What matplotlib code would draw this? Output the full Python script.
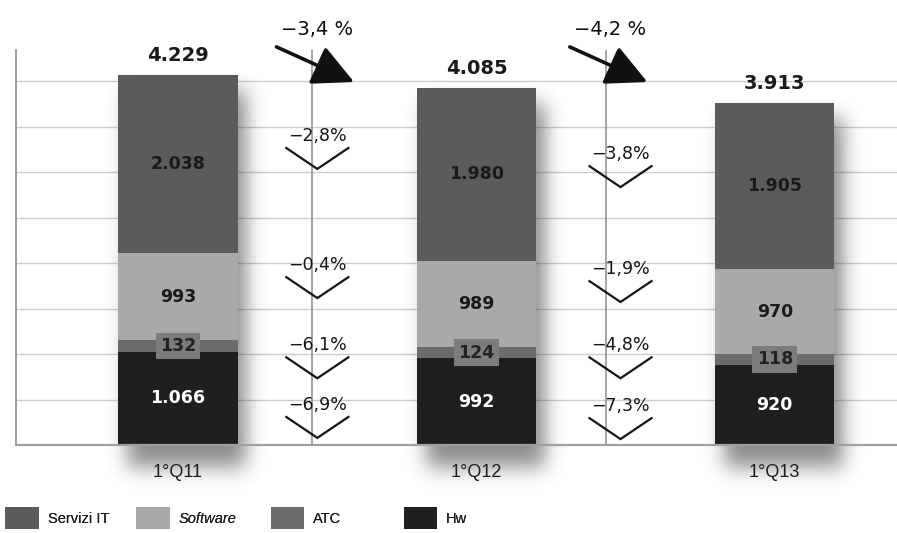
import numpy as np
import matplotlib
matplotlib.use("Agg")
import matplotlib.pyplot as plt
from matplotlib.patches import Patch
from matplotlib.transforms import blended_transform_factory
from math import erf

# ---------------- data ----------------
categories = ["1°Q11", "1°Q12", "1°Q13"]
series_names = ["Servizi IT", "Software", "ATC", "Hw"]
hw = [1066, 992, 920]
atc = [132, 124, 118]
software = [993, 989, 970]
servizi = [2038, 1980, 1905]
totals = [4229, 4085, 3913]
total_labels = ["4.229", "4.085", "3.913"]
servizi_labels = ["2.038", "1.980", "1.905"]
software_labels = ["993", "989", "970"]
atc_labels = ["132", "124", "118"]
hw_labels = ["1.066", "992", "920"]
total_change = ["\u22123,4 %", "\u22124,2 %"]
# per-interval changes (Servizi IT, Software, ATC, Hw)
seg_change = [["\u22122,8%", "\u22120,4%", "\u22126,1%", "\u22126,9%"],
              ["\u22123,8%", "\u22121,9%", "\u22124,8%", "\u22127,3%"]]

colors = {"Servizi IT": "#5b5b5b", "Software": "#a9a9a9",
          "ATC": "#6b6b6b", "Hw": "#1f1f1f"}

FONT = ["DejaVu Sans"]
NARROW = ["Liberation Sans Narrow", "Liberation Sans", "DejaVu Sans"]

fig = plt.figure(figsize=(8.97, 5.33), dpi=100)
ax = fig.add_axes([0.0178, 0.1651, 0.982, 0.741])

x = np.arange(len(categories))
width = 0.40

# ---------- soft drop shadows ----------
verf = np.vectorize(erf)
def soft(v, a, b, s):
    return 0.5 * (verf((v - a) / s) - verf((v - b) / s))

for xi, t in zip(x, totals):
    l, r = xi - width / 2, xi + width / 2
    ex = (l - 0.05, r + 0.25)
    ey = (-700, t)
    xs = np.linspace(ex[0], ex[1], 240)
    ys = np.linspace(ey[0], ey[1], 280)
    px = soft(xs, l + 0.03, r + 0.03, 0.045)
    py = soft(ys, -260, t - 180, 170)
    a = np.outer(py[::-1], px) * 0.55
    img = np.zeros((len(ys), len(xs), 4))
    img[..., :3] = 0.18
    img[..., 3] = a
    ax.imshow(img, extent=(ex[0], ex[1], ey[0], ey[1]), aspect="auto",
              zorder=1, clip_on=False, interpolation="bilinear")

# ---------- stacked bars ----------
stack = [("Hw", hw), ("ATC", atc), ("Software", software), ("Servizi IT", servizi)]
bottom = np.zeros(len(categories))
for name, vals in stack:
    ax.bar(x, vals, width, bottom=bottom, color=colors[name],
           zorder=2, linewidth=0)
    bottom = bottom + np.array(vals)

# segment labels
b = np.zeros(len(categories))
for name, vals, labs in [("Hw", hw, hw_labels), ("ATC", atc, atc_labels),
                         ("Software", software, software_labels),
                         ("Servizi IT", servizi, servizi_labels)]:
    for i in range(len(categories)):
        yc = b[i] + vals[i] / 2
        kw = dict(ha="center", va="center", fontsize=12.5, fontweight="bold",
                  family=FONT, zorder=4)
        if name == "Hw":
            ax.text(x[i], yc, labs[i], color="white", **kw)
        elif name == "ATC":
            ax.text(x[i], yc, labs[i], color="#222222",
                    bbox=dict(boxstyle="square,pad=0.25", fc="#7c7c7c", ec="none"),
                    **kw)
        else:
            ax.text(x[i], yc, labs[i], color="#1a1a1a", **kw)
    b = b + np.array(vals)

# totals
for xi, t, lab in zip(x, totals, total_labels):
    ax.annotate(lab, (xi, t), xytext=(0, 7), textcoords="offset points",
                ha="center", va="bottom", fontsize=14, fontweight="bold",
                family=FONT, color="#1a1a1a", zorder=4)

# ---------- axes styling ----------
ax.set_xlim(-0.543, 2.409)
ax.set_ylim(0, 4515)
ax.set_yticks(np.arange(0, 4200, 520))
ax.set_yticklabels([])
ax.tick_params(axis="y", length=0)
ax.yaxis.grid(True, color="#cccccc", lw=1.0)
ax.set_axisbelow(True)
ax.set_xticks(x)
ax.set_xticklabels(categories, family=NARROW, fontsize=13, color="#1a1a1a")
ax.tick_params(axis="x", length=0, pad=14)
for s in ["top", "right"]:
    ax.spines[s].set_visible(False)
ax.spines["left"].set_color("#8c8c8c")
ax.spines["left"].set_linewidth(1.2)
ax.spines["bottom"].set_color("#a0a0a0")
ax.spines["bottom"].set_linewidth(1.6)

# ---------- dividers, change arrows, chevrons ----------
dividers = [0.45, 1.433]
trans = blended_transform_factory(ax.transData, ax.transAxes)
# chevron arm-top positions (axes fraction) for each interval
chev_top = [[0.752, 0.425, 0.222, 0.071],
            [0.706, 0.415, 0.222, 0.068]]
half_w = 0.104
depth = 0.053
for k, d in enumerate(dividers):
    ax.axvline(d, color="#8c8c8c", lw=1.1, zorder=1.5)
    ax.annotate("", xy=(d + 0.14, 0.919), xytext=(d - 0.12, 1.008),
                xycoords=trans, textcoords=trans, annotation_clip=False,
                arrowprops=dict(arrowstyle="-|>,head_length=0.9,head_width=0.45",
                                lw=2.6, color="#111111", mutation_scale=28,
                                shrinkA=0, shrinkB=0))
    ax.text(d + 0.015, 1.053, total_change[k], transform=trans, ha="center",
            va="center", fontsize=14, family=FONT,
            color="#0d0d0d", clip_on=False)
    vx = d + 0.017 if k == 0 else d + 0.05
    for j, yt in enumerate(chev_top[k]):
        ax.plot([vx - half_w, vx, vx + half_w], [yt, yt - depth, yt],
                transform=trans, color="#151515", lw=1.6, zorder=3,
                solid_joinstyle="miter")
        ax.text(vx, yt + 0.03, seg_change[k][j], transform=trans,
                ha="center", va="center", fontsize=12.5, family=FONT,
                color="#151515", zorder=4)

# ---------- legend ----------
leg_x = [0.006, 0.152, 0.302, 0.450]
for name, lx in zip(series_names, leg_x):
    lg = fig.legend(handles=[Patch(facecolor=colors[name], edgecolor="none")],
                    labels=[name], loc="center left", bbox_to_anchor=(lx, 0.028),
                    frameon=False, handlelength=2.3, handleheight=2.0,
                    handletextpad=0.6, borderpad=0, borderaxespad=0,
                    prop=dict(family=NARROW, size=10.5,
                              style="italic" if name == "Software" else "normal"))
    for t in lg.get_texts():
        t.set_color("#1a1a1a")
    fig.add_artist(lg)

fig.savefig("out.png", dpi=100)
